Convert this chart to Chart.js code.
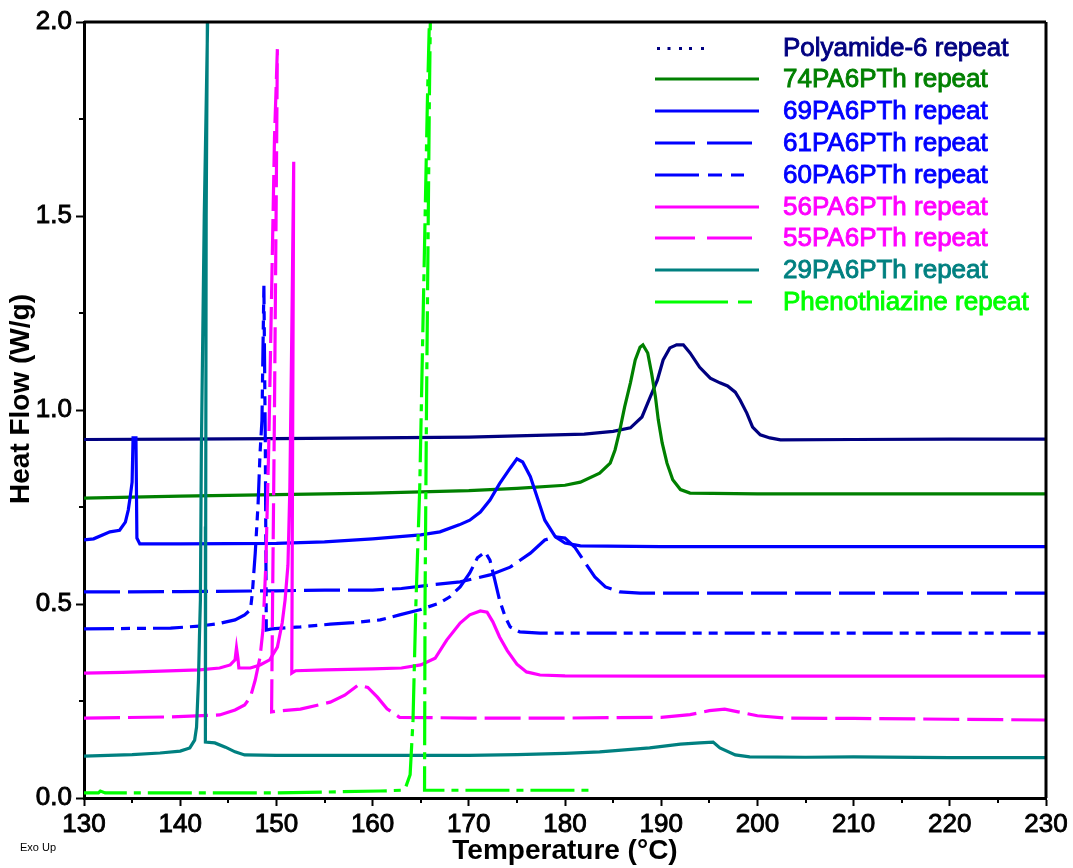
<!DOCTYPE html>
<html>
<head>
<meta charset="utf-8">
<script src="https://cdn.jsdelivr.net/npm/chart.js@4.4.1/dist/chart.umd.min.js"></script>
<style>
html,body{margin:0;padding:0;background:#fff;}
#wrap{position:relative;width:1073px;height:868px;}
</style>
</head>
<body>
<div id="wrap"><canvas id="c" width="1073" height="868"></canvas></div>
<script>
// ---------------- DATA ----------------
const seriesNames = [
  "Polyamide-6 repeat", "74PA6PTh repeat", "69PA6PTh repeat", "61PA6PTh repeat",
  "60PA6PTh repeat", "56PA6PTh repeat", "55PA6PTh repeat", "29PA6PTh repeat",
  "Phenothiazine repeat"
];
const xTickValues = [130,140,150,160,170,180,190,200,210,220,230];
const yTickValues = [0.0,0.5,1.0,1.5,2.0];

// Polyamide-6
const pa6T  = [130,140,150,160,170,178,182,185,186.8,188,188.8,189.6,190.2,190.9,191.6,192.3,193,194,195.1,196.1,196.9,197.7,198.2,198.9,199.5,200.3,201.3,202.4,210,220,230];
const pa6HF = [0.924,0.925,0.926,0.928,0.930,0.935,0.938,0.945,0.954,0.982,1.03,1.077,1.129,1.16,1.168,1.168,1.147,1.11,1.082,1.07,1.062,1.046,1.026,0.992,0.956,0.936,0.928,0.923,0.924,0.925,0.925];

// 74PA6PTh
const s74T  = [130,140,150,160,170,175,180,181.6,183.6,184.7,185.2,185.7,186.2,186.8,187.3,187.8,188.1,188.6,189,189.4,189.7,190.1,190.6,191.2,192,193,200,210,220,230];
const s74HF = [0.773,0.778,0.782,0.786,0.792,0.798,0.806,0.814,0.837,0.863,0.897,0.948,1.008,1.07,1.129,1.162,1.168,1.147,1.095,1.034,0.974,0.915,0.863,0.82,0.795,0.786,0.784,0.784,0.784,0.784];

// 69PA6PTh
const s69T  = [130,131,132.7,133.7,134.3,134.6,134.8,135.0,135.1,135.4,135.5,135.8,140,150,155,160,165,167,169,170.1,171.2,172.2,173.2,174.3,175,175.6,176.4,177.1,177.9,179,180,181.6,190,200,210,220,230];
const s69HF = [0.665,0.668,0.686,0.69,0.711,0.742,0.776,0.814,0.928,0.928,0.67,0.655,0.655,0.656,0.66,0.668,0.678,0.686,0.704,0.716,0.737,0.768,0.81,0.85,0.874,0.866,0.828,0.776,0.716,0.673,0.657,0.65,0.648,0.648,0.648,0.648,0.648];

// 61PA6PTh
const s61T  = [130,140,150,155,160,163,166,169.1,172.2,174.3,176.4,177.9,179,180,181,182.1,183.1,184.2,185.7,187.8,200,210,220,230];
const s61HF = [0.531,0.532,0.534,0.536,0.536,0.54,0.549,0.557,0.575,0.595,0.631,0.665,0.673,0.67,0.647,0.606,0.57,0.544,0.531,0.528,0.528,0.528,0.528,0.528];

// 60PA6PTh
const s60T  = [130,135,139,142,144.1,145.7,146.7,147.3,147.5,147.8,148.1,148.3,148.5,148.7,148.85,148.95,149.5,152.5,155.6,158,160.8,162.8,164.9,167,168,169.1,170.1,170.9,171.7,172.2,172.7,173.2,173.8,174.3,175.3,177.4,190,200,210,220,230];
const s60HF = [0.436,0.437,0.438,0.443,0.45,0.459,0.472,0.485,0.528,0.631,0.76,0.889,0.974,1.32,0.9,0.433,0.436,0.441,0.448,0.452,0.459,0.472,0.485,0.503,0.518,0.544,0.58,0.619,0.634,0.613,0.562,0.51,0.466,0.441,0.428,0.425,0.425,0.425,0.425,0.425,0.425];

// 56PA6PTh
const s56T  = [130,134,138,142,144.1,145.2,145.7,145.85,146.0,146.1,147.3,148.3,149.3,150.1,150.6,150.9,151.2,151.4,151.6,151.8,151.7,151.6,152,155,160,163,165,166.5,167.7,169.1,170.1,171.2,171.9,172.5,173.2,174,175,176,177.4,180,190,200,210,220,230];
const s56HF = [0.322,0.324,0.327,0.33,0.335,0.343,0.356,0.387,0.36,0.335,0.335,0.343,0.356,0.389,0.451,0.51,0.6,0.8,1.2,1.64,1.0,0.322,0.328,0.33,0.333,0.335,0.343,0.36,0.407,0.451,0.472,0.482,0.479,0.454,0.415,0.38,0.345,0.325,0.317,0.315,0.314,0.314,0.314,0.314,0.314];

// 55PA6PTh
const s55T  = [130,139,144.1,145.7,146.7,147.0,147.3,147.8,148.3,148.6,148.9,149.2,149.5,149.8,150.1,150.0,149.8,149.6,149.5,150,152.5,155.6,157.1,158.5,159.5,160.5,161.5,162.8,170,180,190,193,195,196.6,198,200,203,210,220,230];
const s55HF = [0.206,0.209,0.214,0.227,0.24,0.25,0.26,0.304,0.363,0.433,0.6,0.9,1.3,1.7,1.93,1.6,1.0,0.5,0.222,0.224,0.229,0.247,0.265,0.291,0.285,0.26,0.23,0.208,0.206,0.206,0.208,0.215,0.225,0.229,0.222,0.212,0.206,0.205,0.203,0.201];

// 29PA6PTh
const s29T  = [130,135,137.9,140,141,141.5,141.7,141.9,142.0,142.1,142.2,142.5,142.85,142.95,142.85,142.7,142.65,142.62,143.6,144.7,145.7,146.7,150,160,170,175,180,183.6,188.8,192,194,195.4,196.1,197.7,199.2,205,210,220,230];
const s29HF = [0.108,0.112,0.116,0.121,0.129,0.149,0.183,0.304,0.415,0.51,0.9,1.5,2.0,2.3,2.1,1.5,0.7,0.144,0.142,0.131,0.119,0.111,0.11,0.11,0.11,0.112,0.115,0.119,0.129,0.139,0.142,0.144,0.129,0.111,0.106,0.105,0.106,0.104,0.104];

// Phenothiazine
const phT  = [130,131.5,131.7,132.2,140,150,160.8,163,163.4,163.9,164.2,164.5,164.9,165.3,165.7,166.0,166.2,166.1,165.9,165.6,165.45,165.4,166,170,175,180,182.8];
const phHF = [0.013,0.013,0.018,0.013,0.013,0.013,0.018,0.02,0.025,0.06,0.2,0.5,0.8,1.3,1.8,2.1,2.4,2.2,1.8,1.0,0.5,0.02,0.02,0.02,0.02,0.02,0.02];

// ---------------- STYLE ----------------
const FAMILY = "'Liberation Sans', Arial, Helvetica, sans-serif";
const styles = [
  {color:'#000080', dash:[],               legend:'dots'},
  {color:'#008000', dash:[],               legend:[[0,104]]},
  {color:'#0000ff', dash:[],               legend:[[0,104]]},
  {color:'#0000ff', dash:[36,8],           legend:[[0,40],[52,97]]},
  {color:'#0000ff', dash:[30,7,9,7,9,7],   legend:[[0,44],[53,67],[76,89]]},
  {color:'#ff00ff', dash:[],               legend:[[0,104]]},
  {color:'#ff00ff', dash:[36,8],           legend:[[0,40],[52,97]]},
  {color:'#008080', dash:[],               legend:[[0,104]]},
  {color:'#00ff00', dash:[44,7,7,7],       legend:[[0,73],[83,97]]}
];

const pairs = [[pa6T,pa6HF],[s74T,s74HF],[s69T,s69HF],[s61T,s61HF],[s60T,s60HF],[s56T,s56HF],[s55T,s55HF],[s29T,s29HF],[phT,phHF]];

const datasets = pairs.map(([T,H],i)=>({
  label: seriesNames[i],
  data: T.map((t,k)=>({x:t,y:H[k]})),
  borderColor: styles[i].color,
  backgroundColor: styles[i].color,
  borderDash: styles[i].dash,
  borderWidth: 3.2,
  pointRadius: 0,
  tension: 0,
  fill: false,
  order: pairs.length - i
}));

const decorPlugin = {
  id:'decor',
  afterDatasetsDraw(chart){
    const {ctx, chartArea:a, scales:{x,y}} = chart;
    ctx.save();
    ctx.strokeStyle = '#000';
    ctx.lineWidth = 3;
    ctx.beginPath();
    ctx.moveTo(a.left, a.top); ctx.lineTo(a.right, a.top);
    ctx.moveTo(a.right, a.top); ctx.lineTo(a.right, a.bottom);
    ctx.stroke();
    // minor ticks
    ctx.lineWidth = 2;
    ctx.beginPath();
    for (let v=135; v<230; v+=10){ const px=Math.round(x.getPixelForValue(v)); ctx.moveTo(px, a.bottom); ctx.lineTo(px, a.bottom+5); }
    for (let v=0.25; v<2; v+=0.5){ const py=Math.round(y.getPixelForValue(v)); ctx.moveTo(a.left, py); ctx.lineTo(a.left-5, py); }
    ctx.stroke();
    ctx.restore();
  },
  afterDraw(chart){
    const {ctx} = chart;
    ctx.save();
    // y title
    ctx.fillStyle = '#000';
    ctx.font = "bold 28px " + FAMILY;
    ctx.textAlign = 'center'; ctx.textBaseline = 'middle';
    ctx.translate(21, 399); ctx.rotate(-Math.PI/2);
    ctx.fillText('Heat Flow (W/g)', 0, 0);
    ctx.restore();
    ctx.save();
    ctx.fillStyle = '#000';
    ctx.font = "11px " + FAMILY;
    ctx.textAlign='left'; ctx.textBaseline='middle';
    ctx.fillText('Exo Up', 20, 848);
    // legend
    const lx = 655, tx = 783, y0 = 47.5, dy = 31.8;
    ctx.font = "26px " + FAMILY;
    styles.forEach((s,i)=>{
      const yy = Math.round(y0 + i*dy);
      ctx.strokeStyle = s.color; ctx.fillStyle = s.color;
      if (s.legend === 'dots'){
        [0,10.5,22,32,44].forEach(d=>{ ctx.fillRect(lx+2+d, yy-1, 3, 3); });
      } else {
        ctx.lineWidth = 3;
        ctx.beginPath();
        s.legend.forEach(([p,q])=>{ ctx.moveTo(lx+p, yy); ctx.lineTo(lx+q, yy); });
        ctx.stroke();
      }
      ctx.lineWidth = 0.9;
      ctx.fillText(seriesNames[i], tx, yy+1);
      ctx.strokeText(seriesNames[i], tx, yy+1);
    });
    ctx.restore();
  }
};

new Chart(document.getElementById('c').getContext('2d'), {
  type:'line',
  data:{datasets},
  options:{
    responsive:false,
    animation:false,
    devicePixelRatio:1,
    layout:{padding:{top:22,right:27,left:0,bottom:0}},
    plugins:{legend:{display:false}, tooltip:{enabled:false}},
    scales:{
      x:{
        type:'linear', min:130, max:230,
        afterBuildTicks(s){ s.ticks = xTickValues.map(v=>({value:v})); },
        ticks:{color:'#000', font:{family:FAMILY,size:26}, padding:3, maxRotation:0, autoSkip:false, textStrokeColor:'#000', textStrokeWidth:0.9, callback:v=>String(v)},
        grid:{drawOnChartArea:false, drawTicks:true, tickLength:8, tickColor:'#000', tickWidth:2},
        border:{color:'#000', width:3},
        title:{display:true, text:'Temperature (°C)', color:'#000', font:{family:FAMILY,size:28,weight:'bold'}, padding:{top:0,bottom:0}},
        afterFit(s){ s.height = 70; }
      },
      y:{
        type:'linear', min:0, max:2,
        afterBuildTicks(s){ s.ticks = yTickValues.map(v=>({value:v})); },
        ticks:{color:'#000', font:{family:FAMILY,size:26}, padding:4, autoSkip:false, textStrokeColor:'#000', textStrokeWidth:0.9, callback:v=>Number(v).toFixed(1)},
        grid:{drawOnChartArea:false, drawTicks:true, tickLength:8, tickColor:'#000', tickWidth:2},
        border:{color:'#000', width:3},
        title:{display:false},
        afterFit(s){ s.width = 84; }
      }
    }
  },
  plugins:[decorPlugin]
});
</script>
</body>
</html>
